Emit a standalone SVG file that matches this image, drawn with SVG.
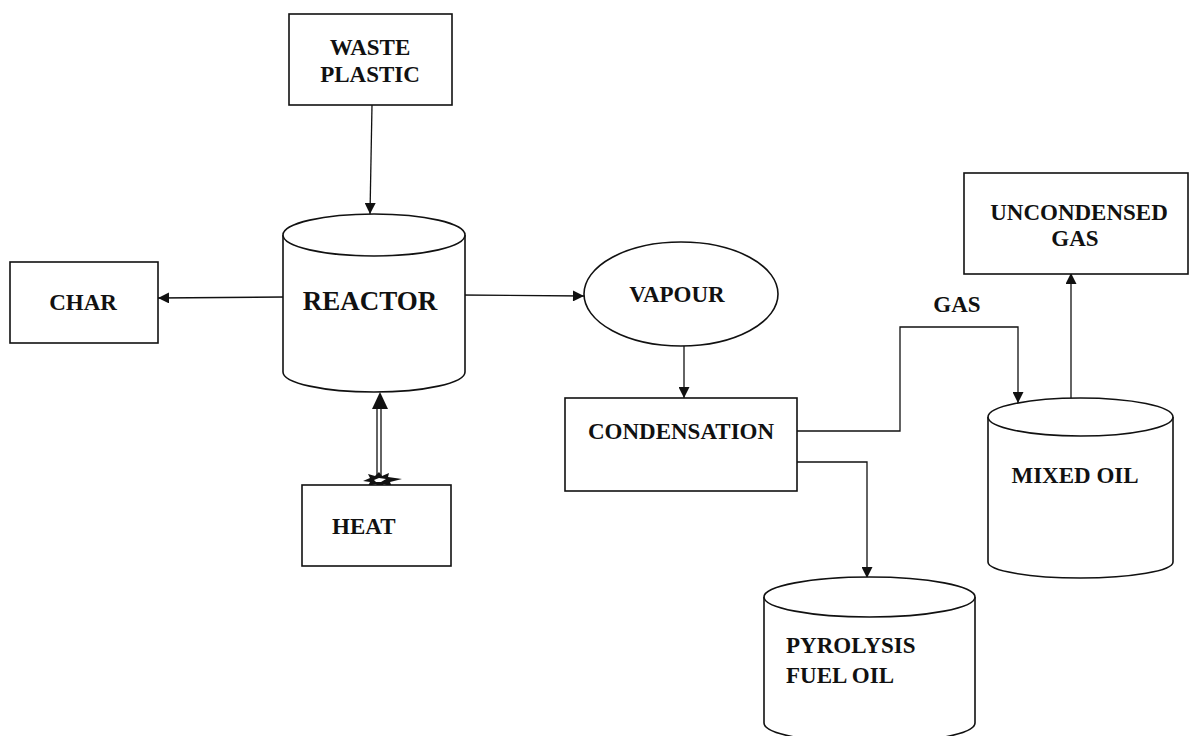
<svg xmlns="http://www.w3.org/2000/svg" width="1189" height="736" viewBox="0 0 1189 736">
<style>
.box{fill:#fff;stroke:#111;stroke-width:1.6}
.cyl{fill:#fff;stroke:#111;stroke-width:1.6}
.ln{fill:none;stroke:#111;stroke-width:1.3}
text{font-weight:bold;fill:#111}
</style>
<defs>
<marker id="ah" viewBox="0 0 10 10" refX="10" refY="5" markerWidth="13" markerHeight="11" markerUnits="userSpaceOnUse" orient="auto">
<path d="M0,0 L10,5 L0,10 z" fill="#111"/>
</marker>
</defs>
<rect width="1189" height="736" fill="#fff"/>

<g id="connectors">
<path class="ln" d="M372,105 L370,214" marker-end="url(#ah)"/>
<path class="ln" d="M285,297 L158,298" marker-end="url(#ah)"/>
<path class="ln" d="M460,295 L584,296" marker-end="url(#ah)"/>
<path class="ln" d="M684,346 L684,398" marker-end="url(#ah)"/>
<path class="ln" d="M795,431 H900 V327 H1018 V403" marker-end="url(#ah)"/>
<path class="ln" d="M1071,400 V273" marker-end="url(#ah)"/>
<path class="ln" d="M797,462 H867 V578" marker-end="url(#ah)"/>
<g id="heat-arrow">
<path class="ln" d="M377,478 V405 M381,478 V405" stroke-width="1.6"/>
<polygon points="380,392 372,409 388,409" fill="#111"/>
<path class="ln" d="M382,484 V502"/>
<polygon points="363,481 370,478 368,474 375,476 379,472 382,476 389,473 388,477 402,479 390,482 392,487 384,484 379,488 376,484 368,486 370,482" fill="#111"/>
<polygon points="374,480 379,478 386,479 381,482 376,482" fill="#fff"/>
</g>
</g>

<g font-family="'Liberation Serif', 'Times New Roman', serif" font-size="23">
<g id="waste-plastic">
<rect class="box" x="289" y="14" width="163" height="91"/>
<text x="370" y="55" text-anchor="middle">WASTE</text>
<text x="370" y="82" text-anchor="middle">PLASTIC</text>
</g>

<g id="reactor">
<path class="cyl" d="M283,235 V372 A91,20 0 0 0 465,372 V235"/>
<ellipse class="cyl" cx="374" cy="235" rx="91" ry="21"/>
<text x="370" y="310" text-anchor="middle" font-size="27">REACTOR</text>
</g>

<g id="char">
<rect class="box" x="10" y="262" width="148" height="81"/>
<text x="83" y="310" text-anchor="middle">CHAR</text>
</g>

<g id="heat">
<rect class="box" x="302" y="485" width="149" height="81"/>
<text x="332" y="534">HEAT</text>
</g>

<g id="vapour">
<ellipse class="cyl" cx="681" cy="294" rx="97" ry="52"/>
<text x="677" y="302" text-anchor="middle">VAPOUR</text>
</g>

<g id="condensation">
<rect class="box" x="565" y="398" width="232" height="93"/>
<text x="681" y="439" text-anchor="middle">CONDENSATION</text>
</g>

<g id="gas-label">
<text x="957" y="312" text-anchor="middle">GAS</text>
</g>

<g id="uncondensed-gas">
<rect class="box" x="964" y="173" width="224" height="101"/>
<text x="1079" y="220" text-anchor="middle">UNCONDENSED</text>
<text x="1075" y="246" text-anchor="middle">GAS</text>
</g>

<g id="mixed-oil">
<path class="cyl" d="M988,417 V562 A92.5,16 0 0 0 1173,562 V417"/>
<ellipse class="cyl" cx="1080.5" cy="417" rx="92.5" ry="19"/>
<text x="1075" y="483" text-anchor="middle">MIXED OIL</text>
</g>

<g id="pyrolysis-fuel-oil">
<path class="cyl" d="M764,597 V723 A105.5,20 0 0 0 975,723 V597"/>
<ellipse class="cyl" cx="869.5" cy="597" rx="105.5" ry="20"/>
<text x="786" y="653">PYROLYSIS</text>
<text x="786" y="683">FUEL OIL</text>
</g>
</g>
</svg>
